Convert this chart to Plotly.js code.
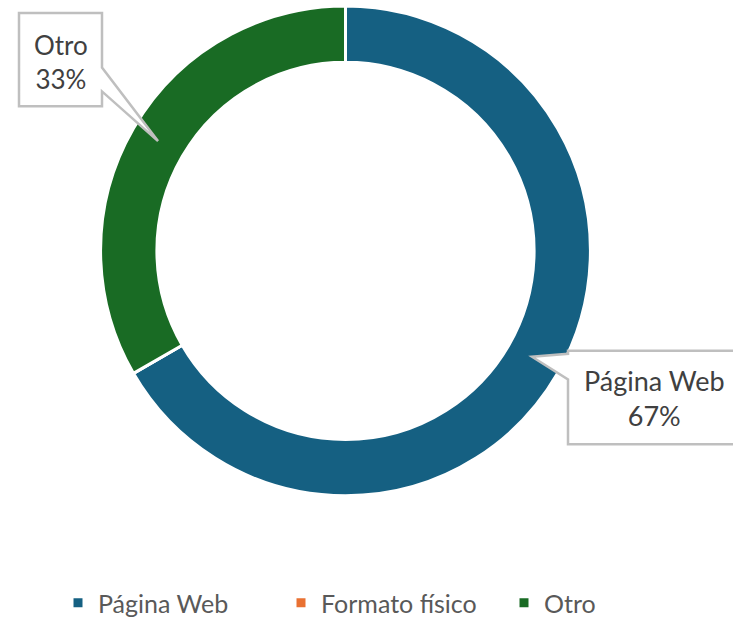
<!DOCTYPE html>
<html>
<head>
<meta charset="utf-8">
<script src="https://cdn.plot.ly/plotly-3.0.1.min.js"></script>
<style>html,body{margin:0;padding:0;background:#fff;}#chart{width:733px;height:626px;}</style>
</head>
<body>
<div id="chart"></div>
<script>
// Data
const categories = ["Página Web", "Formato físico", "Otro"];
const values = [2, 0, 1];
const colors = ["#156082", "#E97132", "#196B24"];
const labelText = ["Página Web<br>67%", "", "Otro<br>33%"];

const W = 733, H = 626;
const px = x => x / W;
const py = y => 1 - y / H;

// pie domain geometry (pixels)
const cx = 345.5, cy = 252.5, R = 246.5;

function pathFrom(points) {
  return points.map((p, i) => (i ? "L" : "M") + px(p[0]).toFixed(5) + "," + py(p[1]).toFixed(5)).join(" ") + " Z";
}

const calloutOtro = [[19,13],[102,13],[102,68],[158,142],[102,92],[102,107],[19,107]];
const calloutWeb = [[568,353],[760,353],[760,447],[568,447],[568,382],[532,359],[568,356]];

const trace = {
  type: "pie",
  labels: categories,
  values: values,
  marker: { colors: colors, line: { color: "#ffffff", width: 3 } },
  hole: 0.77,
  sort: false,
  direction: "clockwise",
  rotation: 0,
  textinfo: "none",
  hoverinfo: "label+percent",
  domain: { x: [px(cx - R), px(cx + R)], y: [py(cy + R), py(cy - R)] }
};

const layout = {
  width: W, height: H,
  margin: { l: 0, r: 0, t: 0, b: 0 },
  paper_bgcolor: "#ffffff",
  showlegend: true,
  legend: {
    orientation: "h", x: px(58), xanchor: "left", y: py(607), yanchor: "middle",
    font: { family: "Lato, sans-serif", size: 25, color: "#595959" },
    entrywidth: 178, entrywidthmode: "pixels",
    itemclick: false, traceorder: "normal"
  },
  shapes: [
    { type: "path", xref: "paper", yref: "paper", path: pathFrom(calloutOtro), fillcolor: "#ffffff", line: { color: "#bfbfbf", width: 2.5 }, layer: "above" },
    { type: "path", xref: "paper", yref: "paper", path: pathFrom(calloutWeb), fillcolor: "#ffffff", line: { color: "#bfbfbf", width: 2.5 }, layer: "above" }
  ],
  annotations: [
    { xref: "paper", yref: "paper", x: px(60.5), y: py(62), text: labelText[2], showarrow: false, xanchor: "center", yanchor: "middle", align: "center",
      font: { family: "Lato, sans-serif", size: 26, color: "#404040" } },
    { xref: "paper", yref: "paper", x: px(654), y: py(401), text: labelText[0], showarrow: false, xanchor: "center", yanchor: "middle", align: "center",
      font: { family: "Lato, sans-serif", size: 27, color: "#404040" } }
  ]
};

Plotly.newPlot("chart", [trace], layout, { displayModeBar: false, staticPlot: true });
</script>
</body>
</html>
